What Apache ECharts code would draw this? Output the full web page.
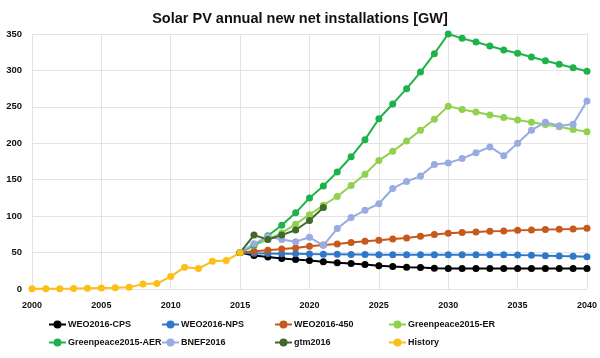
<!DOCTYPE html>
<html>
<head>
<meta charset="utf-8">
<script src="https://cdn.jsdelivr.net/npm/echarts@6/dist/echarts.min.js"></script>
<style>html,body{margin:0;padding:0;background:#fff}#c{width:600px;height:358px}</style>
</head>
<body>
<div id="c"></div>
<script>
const histYears = [2000,2001,2002,2003,2004,2005,2006,2007,2008,2009,2010,2011,2012,2013,2014,2015];
const history = [0.3,0.3,0.5,0.6,1.1,1.4,1.6,2.5,6.7,7.4,17,30,28,38,39,50];
const fcYears = [2015,2016,2017,2018,2019,2020,2021,2022,2023,2024,2025,2026,2027,2028,2029,2030,2031,2032,2033,2034,2035,2036,2037,2038,2039,2040];
const weoCPS = [50,46,44,42,40.5,39,37.5,36,35,33.5,32,31,30,29.5,28.5,28,28,28,28,28,28,28,28,28,28,28];
const weoNPS = [50,49,48.8,48.5,48.3,48,47.8,47.6,47.4,47.2,47,47,47,47,47,47,47,47,47,47,46.5,46.2,45.8,45.2,44.8,44.2];
const weo450 = [50,51.8,53.2,55,56.4,58.7,60.5,61.9,63.8,65.5,66.9,68.7,70.1,72.4,74.7,76.5,77.5,78.4,79.3,79.7,80.7,81.1,81.6,82,82.5,83.4];
const gpER = [50,60,68,77,89,102,115,127,142,157.6,176.5,189,203,218,233,251,246.5,243,238.7,235.4,232,229,225.8,222.6,219,215.7];
const gpAER = [50,60,73,87.5,104.5,125,141.5,160.6,181.5,205,233.6,254,275,297.8,323,350,344,339,333.5,328,323.5,318.5,313.4,308.4,303.7,299];
const bnef = [50,62,72,68,65,71,60,83,98,108,117,138,147.6,155,171,173,179,187,195,183,200,218,229,224,226,258];
const gtmYears = [2015,2016,2017,2018,2019,2020,2021];
const gtm = [50,74,68,74,81,94,112];
const xTicks = {min:2000, max:2040, step:5};
const yTicks = {min:0, max:350, step:50};

const FONT = '"Liberation Sans", Arial, sans-serif';
function pairs(xs, ys){ return xs.map((x,i)=>[x, ys[i]]); }
function mk(name, xs, ys, color){
  return {name, type:'line', data:pairs(xs, ys), symbol:'circle', symbolSize:7,
    itemStyle:{color}, lineStyle:{color, width:2}, emphasis:{disabled:true}, animation:false};
}
const series = [
  mk('WEO2016-CPS', fcYears, weoCPS, '#000000'),
  mk('WEO2016-NPS', fcYears, weoNPS, '#2e78cc'),
  mk('WEO2016-450', fcYears, weo450, '#c55a1c'),
  mk('Greenpeace2015-ER', fcYears, gpER, '#92d050'),
  mk('Greenpeace2015-AER', fcYears, gpAER, '#20b24a'),
  mk('BNEF2016', fcYears, bnef, '#98abe2'),
  mk('gtm2016', gtmYears, gtm, '#3f6a2a'),
  mk('History', histYears, history, '#fbbf16')
];
const legTxt = {fontFamily:FONT, fontWeight:'bold', fontSize:9, color:'#111', padding:[0,0,0,-3]};
function leg(names, left){
  return {data:names, left, top:320, orient:'vertical', itemGap:9, itemWidth:17, itemHeight:10,
    textStyle:legTxt, selectedMode:false, padding:0};
}
const chart = echarts.init(document.getElementById('c'), null, {renderer:'canvas'});
chart.setOption({
  animation:false,
  backgroundColor:'#fff',
  title:{text:'Solar PV annual new net installations [GW]', left:'center', top:6,
    textStyle:{fontFamily:FONT, fontWeight:'bold', fontSize:14.5, color:'#111'}},
  grid:{left:32, right:12, top:34, bottom:69},
  xAxis:{type:'value', min:xTicks.min, max:xTicks.max, interval:xTicks.step,
    axisLine:{show:false}, axisTick:{show:false},
    splitLine:{show:true, lineStyle:{color:'#e3e3e3', width:1}},
    axisLabel:{fontFamily:FONT, fontWeight:'bold', fontSize:9, color:'#111', margin:12,
      formatter:(v)=>String(v)}},
  yAxis:{type:'value', min:yTicks.min, max:yTicks.max, interval:yTicks.step,
    axisLine:{show:false}, axisTick:{show:false},
    splitLine:{show:true, lineStyle:{color:'#e3e3e3', width:1}},
    axisLabel:{fontFamily:FONT, fontWeight:'bold', fontSize:9.5, color:'#111', margin:10}},
  legend:[
    leg(['WEO2016-CPS','Greenpeace2015-AER'], 48),
    leg(['WEO2016-NPS','BNEF2016'], 161),
    leg(['WEO2016-450','gtm2016'], 274),
    leg(['Greenpeace2015-ER','History'], 388)
  ],
  series
});
</script>
</body>
</html>
